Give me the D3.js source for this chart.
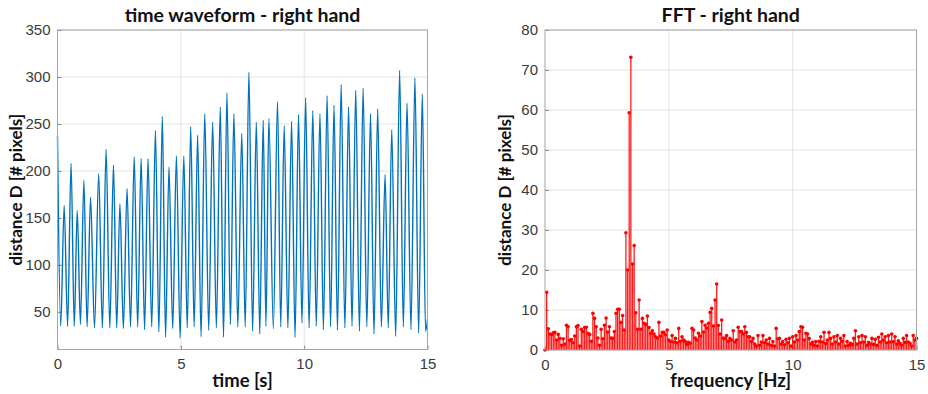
<!DOCTYPE html>
<html>
<head>
<meta charset="utf-8">
<script src="https://cdn.jsdelivr.net/npm/d3@7"></script>
<style>
  body { margin: 0; background: #fff; }
  svg { display: block; }
  .tick text { font-family: "Liberation Sans", Arial, sans-serif; font-size: 15px; fill: #3a3a3a; }
  .title, .label { font-family: Lato, "Open Sans", sans-serif; font-weight: 700; fill: #111; }
</style>
</head>
<body>
<svg id="chart" width="928" height="394"></svg>
<script>
// time waveform: peaks and dips
const peakTime = [0.00, 0.27, 0.55, 0.80, 1.07, 1.34, 1.67, 1.97, 2.27, 2.53,
  2.82, 3.11, 3.39, 3.67, 3.97, 4.25, 4.52, 4.82, 5.12, 5.40,
  5.68, 5.97, 6.29, 6.60, 6.87, 7.15, 7.47, 7.76, 8.06, 8.34,
  8.57, 8.92, 9.19, 9.49, 9.77, 10.06, 10.35, 10.64, 10.93, 11.21,
  11.50, 11.80, 12.09, 12.39, 12.69, 12.98, 13.28, 13.55, 13.87, 14.17,
  14.49, 14.79];
const peakValue = [237, 163, 208, 158, 190, 172, 197, 223, 206, 165,
  181, 215, 213, 213, 243, 258, 204, 216, 216, 247,
  238, 261, 252, 268, 283, 261, 240, 305, 252, 254,
  256, 274, 248, 253, 260, 278, 264, 261, 280, 270,
  292, 268, 286, 288, 261, 266, 196, 244, 307, 272,
  299, 282];
const dipTime = [0.13, 0.41, 0.68, 0.93, 1.20, 1.50, 1.82, 2.12, 2.40, 2.67,
  2.96, 3.25, 3.53, 3.82, 4.11, 4.38, 4.67, 4.97, 5.26, 5.54,
  5.82, 6.13, 6.44, 6.73, 7.01, 7.31, 7.61, 7.91, 8.20, 8.45,
  8.75, 9.05, 9.34, 9.63, 9.91, 10.20, 10.49, 10.78, 11.07, 11.35,
  11.65, 11.94, 12.24, 12.54, 12.83, 13.13, 13.41, 13.71, 14.02, 14.33,
  14.64, 14.92];
const dipValue = [34.8, 34.8, 34.8, 36.6, 34.1, 33, 33, 33, 33, 32.3,
  34.1, 34.1, 31.2, 34.1, 28.7, 23.1, 32.3, 22.4, 33, 34.1,
  23.5, 30.5, 33, 23.1, 36.6, 34.1, 34.1, 29.5, 26.6, 34.8,
  31.9, 34.1, 33, 23.1, 38.3, 33, 34.8, 31.2, 34.1, 30.5,
  33, 34.8, 29.5, 34.1, 26.6, 34.1, 33, 24.1, 34.1, 31.2,
  27.7, 29.5];
const endTime = 15, endValue = 42;

// FFT magnitude, bins of 1/15 Hz from 0 to 15 Hz
const fftValue = [
  0, 14.4, 5.3, 4.0, 3.8, 4.3, 4.4, 2.5, 3.9, 2.9, 1.2, 2.8, 1.5, 6.2, 5.8,
  2.4, 2.6, 1.8, 3.5, 5.8, 6.1, 1.0, 5.2, 4.6, 5.6, 5.7, 4.2, 3.9, 2.2, 9.2,
  7.9, 5.8, 3.0, 1.2, 5.2, 2.8, 6.2, 8.0, 4.5, 5.8, 3.0, 2.9, 4.6, 9.2, 10.2,
  10.2, 6.9, 8.6, 5.0, 29.3, 20.0, 59.3, 73.2, 21.5, 26.1, 9.3, 5.2, 12.5, 5.2, 7.9,
  6.7, 6.4, 8.5, 5.6, 4.2, 4.8, 4.0, 3.3, 3.0, 6.9, 3.5, 4.4, 4.4, 3.8, 5.0,
  2.5, 2.1, 3.6, 2.0, 2.9, 1.8, 5.4, 2.2, 3.3, 2.5, 2.1, 1.4, 1.9, 1.7, 5.4,
  5.0, 3.0, 2.5, 4.2, 3.5, 7.1, 4.5, 6.2, 5.5, 6.7, 9.4, 10.4, 6.0, 12.5, 16.5,
  6.1, 4.0, 7.5, 3.0, 2.9, 3.6, 2.2, 2.9, 2.5, 4.8, 2.0, 2.5, 5.7, 4.6, 4.6,
  4.0, 5.8, 4.4, 3.3, 3.3, 2.1, 2.9, 1.5, 1.0, 3.6, 1.2, 2.0, 3.6, 1.8, 2.5,
  1.5, 2.9, 1.2, 2.1, 1.0, 5.4, 2.8, 2.9, 1.5, 2.1, 1.3, 2.7, 1.8, 2.9, 1.0,
  3.3, 2.0, 3.6, 2.5, 4.6, 5.8, 5.7, 2.5, 4.2, 4.0, 2.9, 1.5, 1.9, 1.2, 2.1,
  1.0, 2.2, 3.3, 2.0, 4.4, 1.6, 2.5, 4.4, 2.9, 1.5, 3.3, 2.0, 3.6, 1.5, 2.9,
  2.2, 3.6, 1.0, 2.1, 1.2, 1.7, 1.4, 2.9, 4.8, 1.5, 3.3, 1.8, 3.6, 2.0, 3.3,
  1.2, 1.9, 1.5, 2.9, 1.4, 2.7, 1.2, 3.2, 2.0, 4.0, 2.5, 3.3, 1.8, 3.6, 2.0,
  4.0, 2.1, 3.3, 1.5, 2.3, 1.7, 1.2, 2.9, 1.9, 3.6, 2.0, 1.7, 1.0, 3.6, 2.5, 2.9
];
const fftStep = 1 / 15;

const xTicks = [0, 5, 10, 15];
const timeYTicks = [50, 100, 150, 200, 250, 300, 350];
const fftYTicks = [0, 10, 20, 30, 40, 50, 60, 70, 80];

const svg = d3.select("#chart");

function panel(box, yDomain, yTicks, title, xLabel, labelX) {
  const x = d3.scaleLinear().domain([0, 15]).range([box.left, box.right]);
  const y = d3.scaleLinear().domain(yDomain).range([box.bottom, box.top]);
  const g = svg.append("g");

  // grid
  g.append("g").selectAll("line").data(xTicks.slice(1, -1)).join("line")
    .attr("x1", d => x(d)).attr("x2", d => x(d))
    .attr("y1", box.top).attr("y2", box.bottom)
    .attr("stroke", "#e3e3e3").attr("stroke-width", 1);
  g.append("g").selectAll("line").data(yTicks).join("line")
    .attr("x1", box.left).attr("x2", box.right)
    .attr("y1", d => y(d)).attr("y2", d => y(d))
    .attr("stroke", "#e3e3e3").attr("stroke-width", 1);

  // axes
  const ax = g.append("g").attr("transform", `translate(0,${box.bottom})`)
    .call(d3.axisBottom(x).tickValues(xTicks).tickSize(-4).tickPadding(9).tickFormat(d3.format("d")));
  const ay = g.append("g").attr("transform", `translate(${box.left},0)`)
    .call(d3.axisLeft(y).tickValues(yTicks).tickSize(-4).tickPadding(7).tickFormat(d3.format("d")));
  [ax, ay].forEach(a => {
    a.select(".domain").remove();
    a.selectAll(".tick line").attr("stroke", "#8a8a8a");
  });

  // title and labels
  g.append("text").attr("class", "title")
    .attr("x", (box.left + box.right) / 2).attr("y", 22)
    .attr("text-anchor", "middle").style("font-size", "19.5px").text(title);
  g.append("text").attr("class", "label")
    .attr("x", (box.left + box.right) / 2).attr("y", 387)
    .attr("text-anchor", "middle").style("font-size", "18.5px").text(xLabel);
  g.append("text").attr("class", "label")
    .attr("transform", `translate(${labelX},${(box.top + box.bottom) / 2}) rotate(-90)`)
    .attr("text-anchor", "middle").style("font-size", "17px").text("distance D [# pixels]");

  return { x, y, g, box };
}

function frame(p) {
  const b = p.box;
  p.g.append("rect").attr("x", b.left).attr("y", b.top)
    .attr("width", b.right - b.left).attr("height", b.bottom - b.top)
    .attr("fill", "none").attr("stroke", "#a6a6a6").attr("stroke-width", 1);
}

// left panel: time waveform
const left = panel({ left: 57.5, right: 427.5, top: 30, bottom: 349.5 },
  [10, 350], timeYTicks, "time waveform - right hand", "time [s]", 22);

const wave = [];
peakTime.forEach((t, i) => {
  wave.push([t, peakValue[i]]);
  wave.push([dipTime[i], dipValue[i]]);
});
wave.push([endTime, endValue]);

left.g.append("path")
  .datum(wave)
  .attr("fill", "none")
  .attr("stroke", "#0072BD")
  .attr("stroke-width", 1.4)
  .attr("stroke-linejoin", "round")
  .attr("d", d3.line().x(d => left.x(d[0])).y(d => left.y(d[1])).curve(d3.curveMonotoneX));
frame(left);

// right panel: FFT stem plot
const right = panel({ left: 545, right: 916.5, top: 30, bottom: 350 },
  [0, 80], fftYTicks, "FFT - right hand", "frequency [Hz]", 511);

const stems = right.g.append("g");
stems.selectAll("line").data(fftValue).join("line")
  .attr("x1", (d, i) => right.x(i * fftStep)).attr("x2", (d, i) => right.x(i * fftStep))
  .attr("y1", right.y(0)).attr("y2", d => right.y(d))
  .attr("stroke", "#ff1a1a").attr("stroke-width", 1.3);
stems.selectAll("circle").data(fftValue).join("circle")
  .attr("cx", (d, i) => right.x(i * fftStep))
  .attr("cy", d => right.y(d))
  .attr("r", 1.8)
  .attr("fill", "#ff0000");
frame(right);
</script>
</body>
</html>
